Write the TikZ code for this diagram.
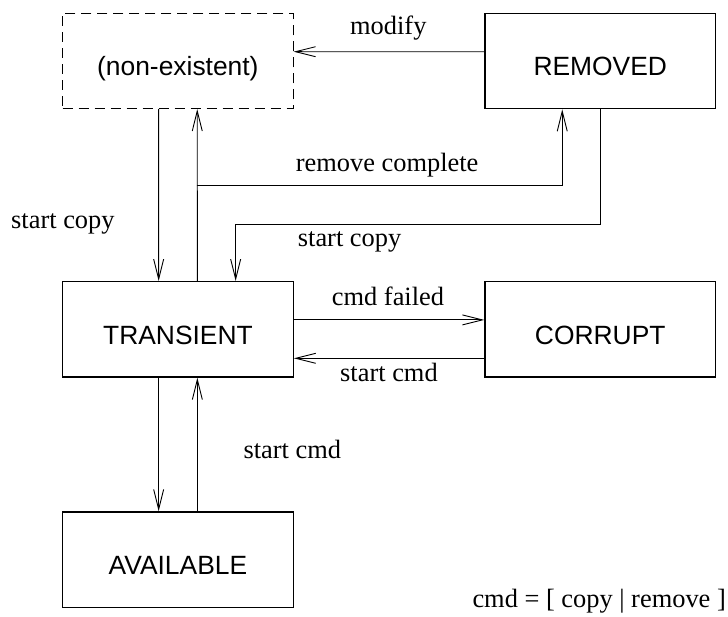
\documentclass[tikz,border=0pt]{standalone}
\usepackage{fontspec}
\setmainfont{Liberation Serif}
\newfontfamily\boxfont{Liberation Sans}
\usetikzlibrary{arrows.meta}

\tikzset{
  statebox/.style={draw, line width=1.2pt, inner xsep=0pt, inner ysep=0pt,
    minimum width=230.7pt, text height=62.5pt, text depth=33pt,
    anchor=north west, font=\boxfont\fontsize{26.4}{30}\selectfont},
  ghostbox/.style={statebox, dash pattern=on 10pt off 6pt, line width=1pt},
  arr/.style={line width=0.9pt, -{Straight Barb[length=20pt,width=10pt,line width=0.9pt]}},
  lbl/.style={anchor=base west, inner sep=0pt, font=\fontsize{26.4}{30}\selectfont}
}

\begin{document}
\begin{tikzpicture}[x=1pt,y=-1pt]
  \useasboundingbox (0,0) rectangle (728,617);

  % states
  \node[ghostbox] (ne) at (62,12.7)   {(non-existent)};
  \node[statebox] (rm) at (484.3,12.7) {REMOVED};
  \node[statebox] (tr) at (62,281)    {TRANSIENT};
  \node[statebox] (co) at (484.3,281) {CORRUPT};
  \node[statebox] (av) at (62,511.3)  {AVAILABLE};

  % transitions
  \draw[arr] ([yshift=9.25pt]rm.west) -- ([yshift=9.25pt]ne.east);
  \draw[arr] ([xshift=-19.3pt]ne.south) -- ([xshift=-19.3pt]tr.north);
  \draw[arr] ([xshift=19.4pt]tr.north) -- ([xshift=19.4pt]ne.south);
  \coordinate (split) at (196.7,185.7);
  \draw[arr] (split) -| ([xshift=-38pt]rm.south);
  \draw[arr] (rm.south) -- ++(0,115.1) -| ([xshift=57.7pt]tr.north);
  \draw[arr] ([yshift=9.45pt]tr.east) -- ([yshift=9.45pt]co.west);
  \draw[arr] ([yshift=-28.95pt]co.west) -- ([yshift=-28.95pt]tr.east);
  \draw[arr] ([xshift=-19.3pt]tr.south) -- ([xshift=-19.3pt]av.north);
  \draw[arr] ([xshift=19.4pt]av.north) -- ([xshift=19.4pt]tr.south);

  % transition labels
  \node[lbl] (lmod) at (350,35)     {modify};
  \node[lbl] (lrc)  at (295.7,171.7) {remove complete};
  \node[lbl] (lsc2) at (297.7,246.7) {start copy};
  \node[lbl] (lsc1) at (11,228.3)    {start copy};
  \node[lbl] (lcf)  at (331.7,306)   {cmd failed};
  \node[lbl] (lsm2) at (340,381.7)   {start cmd};
  \node[lbl] (lsm1) at (243.3,458.3) {start cmd};
  \node[lbl] (note) at (472.3,607.3) {cmd = [ copy | remove ]};
\end{tikzpicture}
\end{document}
